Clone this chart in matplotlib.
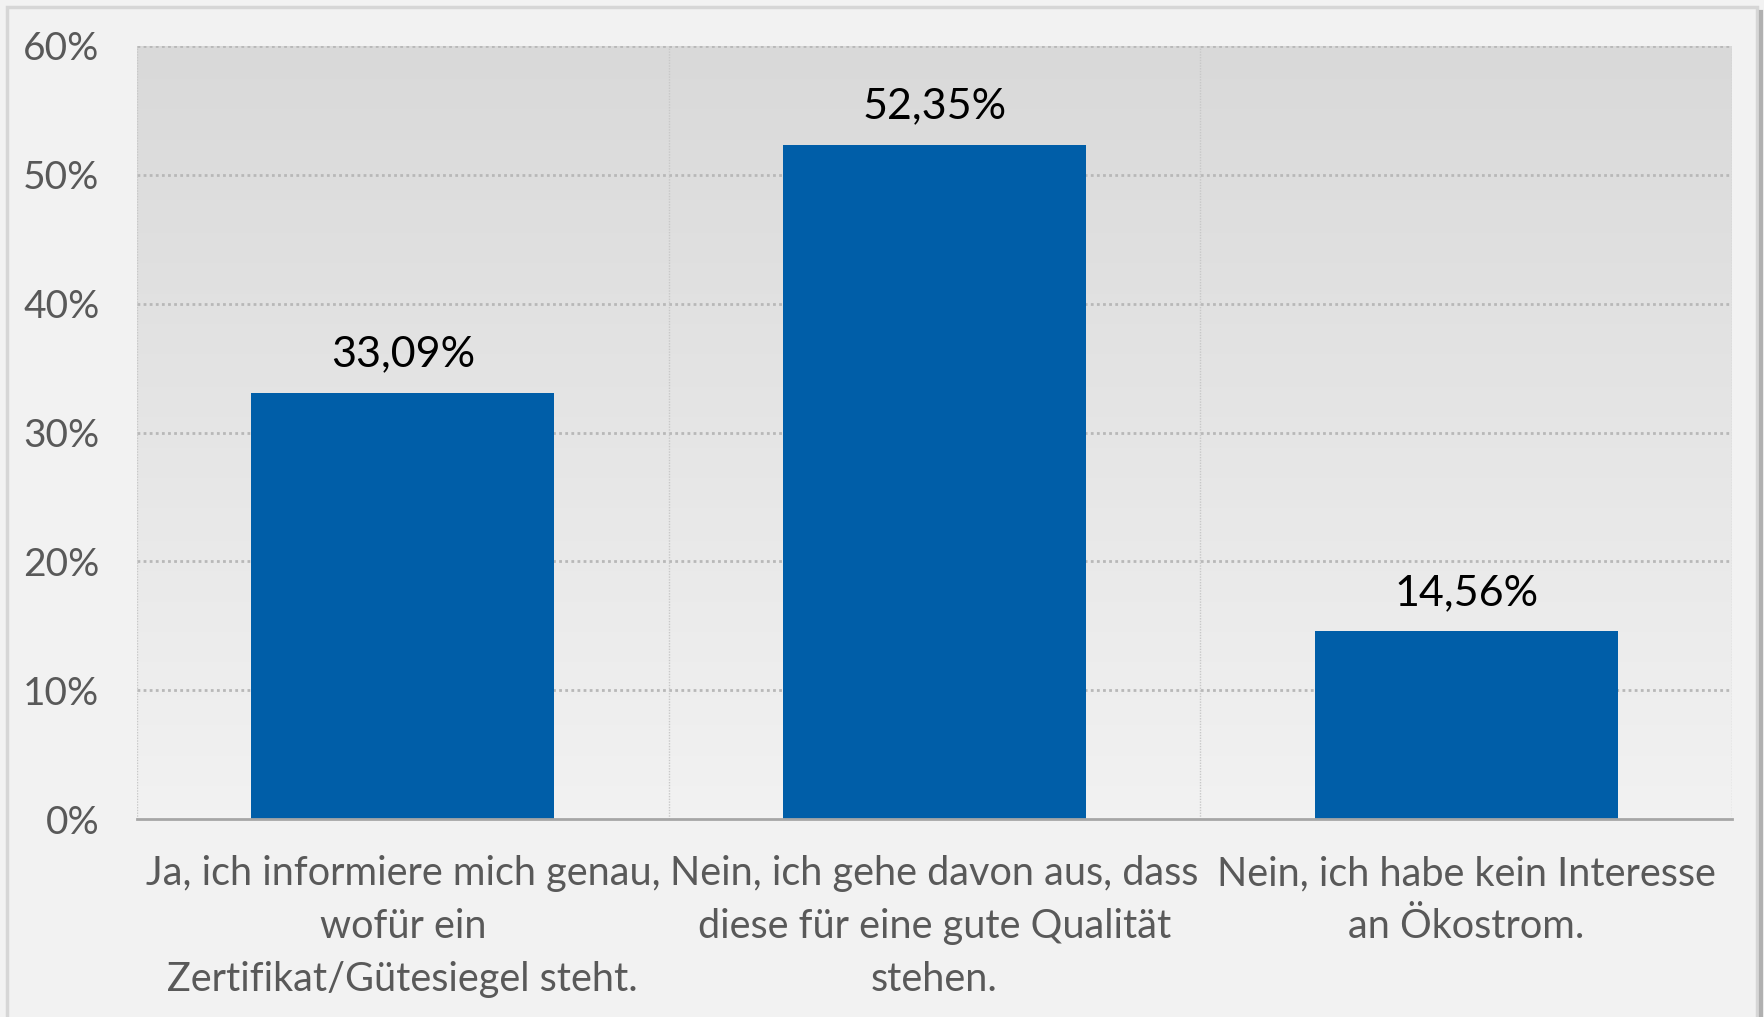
import matplotlib.pyplot as plt
import numpy as np
from matplotlib.patches import Rectangle
from matplotlib.lines import Line2D

categories = ["Ja, ich informiere mich genau,\nwofür ein\nZertifikat/Gütesiegel steht.",
              "Nein, ich gehe davon aus, dass\ndiese für eine gute Qualität\nstehen.",
              "Nein, ich habe kein Interesse\nan Ökostrom."]
values = [33.09, 52.35, 14.56]
value_labels = ["33,09%", "52,35%", "14,56%"]
yticks = [0, 10, 20, 30, 40, 50, 60]

plt.rcParams['font.family'] = ['Lato', 'DejaVu Sans']

W, H = 1765, 1017
fig = plt.figure(figsize=(W/100, H/100), dpi=100, facecolor='#f2f2f2')
ax = fig.add_axes([137/W, 1-819/H, (1732-137)/W, (819-46)/H])
ax.set_facecolor('#f2f2f2')

# gradient in plot area: dark grey on top, light at bottom
grad = np.linspace(0, 1, 256).reshape(-1, 1)
top = np.array([0xd9, 0xd9, 0xd9]) / 255
bot = np.array([0xf2, 0xf2, 0xf2]) / 255
img = top + (bot - top) * grad[:, :, None]
ax.imshow(img, extent=[-0.5, 2.5, 0, 60], aspect='auto', zorder=0, origin='upper')

x = np.arange(len(values))
ax.bar(x, values, width=0.57, color='#005ea8', zorder=3)
for xi, v, lab in zip(x, values, value_labels):
    ax.annotate(lab, (xi, v), xytext=(0, 14), textcoords='offset points',
                ha='center', va='bottom', fontsize=31, color='black')

ax.set_xlim(-0.5, 2.5)
ax.set_ylim(0, 60)
ax.set_yticks(yticks)
ax.set_yticklabels([f"{t}%" for t in yticks])
ax.set_xticks(x)
ax.set_xticklabels(categories, linespacing=1.53)

for yv in yticks[1:]:
    ax.axhline(yv, color='#b8b8b8', lw=2, ls=(0, (1, 1.2)), zorder=1)
for xv in [-0.5, 0.5, 1.5, 2.5]:
    ax.axvline(xv, color='#c8c8c8', lw=1, ls=(0, (1, 1)), zorder=1)

for s in ['top', 'right', 'left']:
    ax.spines[s].set_visible(False)
ax.spines['bottom'].set_color('#a6a6a6')
ax.spines['bottom'].set_linewidth(2)
ax.spines['bottom'].set_zorder(4)

ax.tick_params(axis='y', length=0, pad=27, labelsize=28, labelcolor='#595959')
ax.tick_params(axis='x', length=0, pad=26, labelsize=28.5, labelcolor='#595959')

# chart frame and shadow
fig.patches.append(Rectangle((7/W, -0.05), (1757-7)/W, 1.05 - 7/H, transform=fig.transFigure,
                             fill=False, edgecolor='#d6d6d6', lw=2.5))
fig.lines.append(Line2D([1761/W, 1761/W], [0, 1-12/H], transform=fig.transFigure,
                        color='#b0b0b0', lw=3))

fig.savefig('out.png', dpi=100, facecolor=fig.get_facecolor())
